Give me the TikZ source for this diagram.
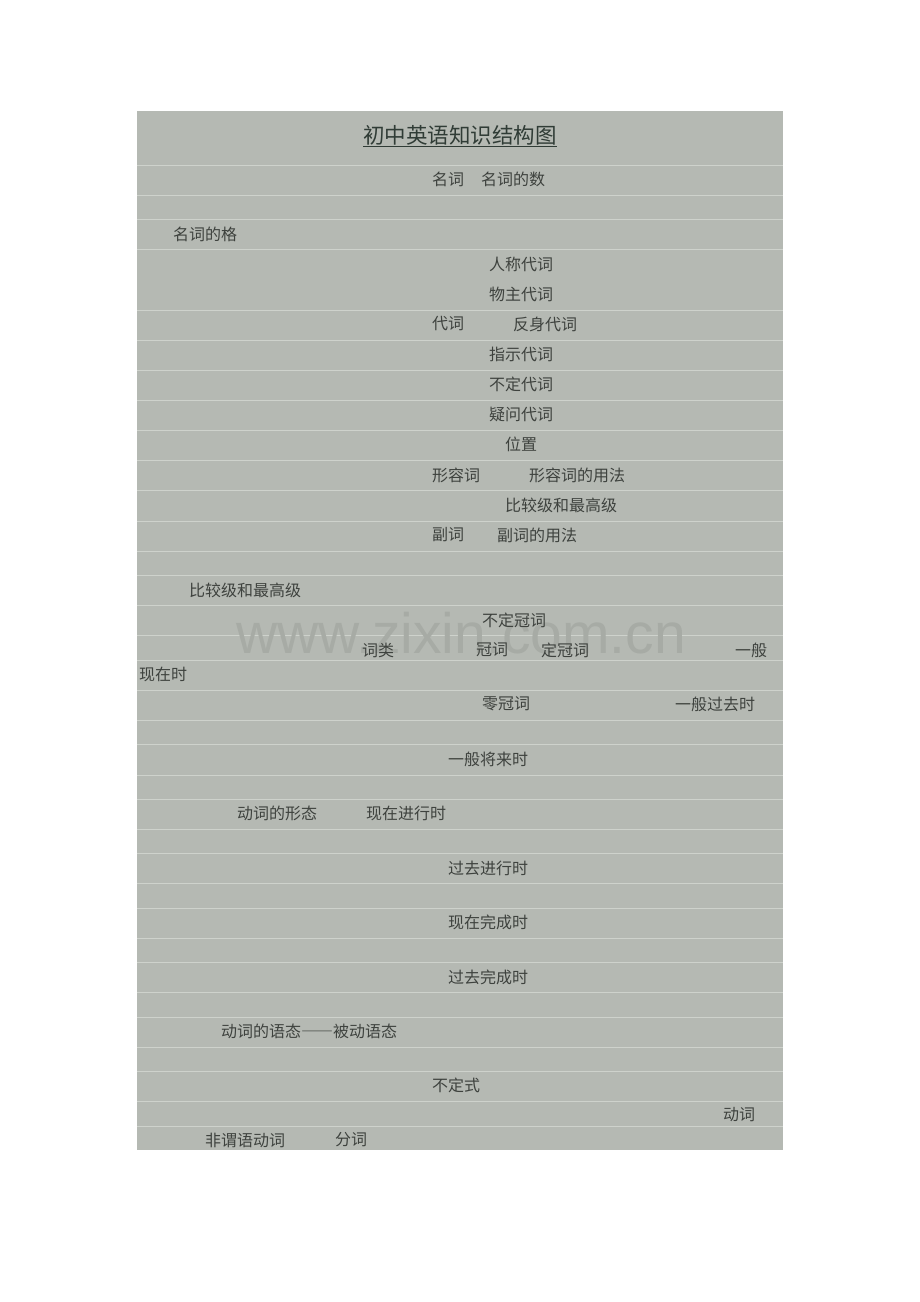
\documentclass[tikz,border=0pt]{standalone}
\usepackage{fontspec}
\setmainfont{Liberation Sans}
\newfontfamily\cjk{Noto Sans CJK SC}
\newfontfamily\cjkfw[RawFeature=+fwid]{Noto Sans CJK SC}
\definecolor{bgbox}{RGB}{181,185,179}
\definecolor{rule}{RGB}{206,210,204}
\definecolor{ink}{RGB}{62,66,62}
\definecolor{titleink}{RGB}{48,60,54}
\definecolor{wm}{RGB}{167,171,165}
\tikzset{
  lbl/.style={anchor=west, inner sep=0pt, text=ink, font=\cjk\fontsize{16pt}{16pt}\selectfont},
}
\begin{document}
\begin{tikzpicture}[x=1pt,y=-1pt]
\useasboundingbox (0,0) rectangle (920,1302);
\fill[bgbox] (137,111) rectangle (783,1150);
\foreach \yy in {165,195,219,249,310,340,370,400,430,460,490,521,551,575,605,635,660,690,720,744,775,799,829,853,883,908,938,962,992,1017,1047,1071,1101,1126}
  \draw[rule, line width=1pt] (137,\yy) -- (783,\yy);
\node[anchor=center, inner sep=0pt, text=wm, font=\fontsize{57pt}{60pt}\selectfont] (wmk) at (461,633) {www.zixin.com.cn};
\node[anchor=center, inner sep=0pt, text=titleink, font=\cjk\fontsize{21.5pt}{22pt}\selectfont] (title) at (460,136) {\underline{初中英语知识结构图}};
\node[lbl] (n1) at (432,179) {名词};
\node[lbl] (n2) at (481,179) {名词的数};
\node[lbl] (n3) at (173,234) {名词的格};
\node[lbl] (p1) at (489,264) {人称代词};
\node[lbl] (p2) at (489,294) {物主代词};
\node[lbl] (p0) at (432,324) {代词};
\node[lbl] (p3) at (513,324) {反身代词};
\node[lbl] (p4) at (489,354) {指示代词};
\node[lbl] (p5) at (489,384) {不定代词};
\node[lbl] (p6) at (489,414) {疑问代词};
\node[lbl] (a1) at (505,444) {位置};
\node[lbl] (a0) at (432,475) {形容词};
\node[lbl] (a2) at (529,475) {形容词的用法};
\node[lbl] (a3) at (505,505) {比较级和最高级};
\node[lbl] (d0) at (432,535) {副词};
\node[lbl] (d1) at (497,535) {副词的用法};
\node[lbl] (d2) at (189,590) {比较级和最高级};
\node[lbl] (r1) at (482,620) {不定冠词};
\node[lbl] (c0) at (362,650) {词类};
\node[lbl] (r0) at (476,650) {冠词};
\node[lbl] (r2) at (541,650) {定冠词};
\node[lbl] (t1a) at (735,650) {一般};
\node[lbl] (t1b) at (139,674) {现在时};
\node[lbl] (r3) at (482,704) {零冠词};
\node[lbl] (t2) at (675,704) {一般过去时};
\node[lbl] (t3) at (448,759) {一般将来时};
\node[lbl] (v1) at (237,813) {动词的形态};
\node[lbl] (t4) at (366,813) {现在进行时};
\node[lbl] (t5) at (448,868) {过去进行时};
\node[lbl] (t6) at (448,922) {现在完成时};
\node[lbl] (t7) at (448,977) {过去完成时};
\node[lbl] (v2) at (221,1031) {动词的语态{\cjkfw\fontsize{16pt}{16pt}\selectfont ——}被动语态};
\node[lbl] (f1) at (432,1085) {不定式};
\node[lbl] (v0) at (723,1115) {动词};
\node[lbl] (f0) at (205,1140) {非谓语动词};
\node[lbl] (f2) at (335,1140) {分词};
\end{tikzpicture}
\end{document}
